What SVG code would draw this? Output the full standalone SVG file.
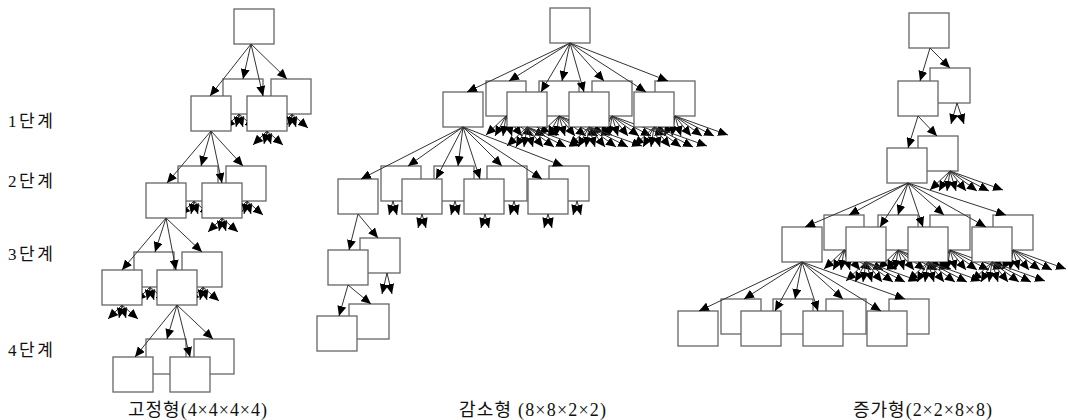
<svg xmlns="http://www.w3.org/2000/svg" xmlns:xlink="http://www.w3.org/1999/xlink" width="1068" height="420" viewBox="0 0 1068 420">
<style>
.b{fill:#fff;stroke:#666;stroke-width:1.3}
.t{font-family:'Liberation Serif','Noto Sans CJK KR',serif;font-size:17px;fill:#111}
.tt{font-size:18px}
</style>
<defs>
<marker id="ah" markerUnits="userSpaceOnUse" markerWidth="10" markerHeight="9" refX="10" refY="4.5" orient="auto"><path d="M0,0L10,4.5L0,9z" fill="#000"/></marker>
<g id="f4"><line x1="0" y1="0" x2="-14" y2="14"/><line x1="0" y1="0" x2="-3" y2="13"/><line x1="0" y1="0" x2="4" y2="13"/><line x1="0" y1="0" x2="16" y2="14"/></g>
<g id="f8"><line x1="0" y1="0" x2="-20" y2="19"/><line x1="0" y1="0" x2="-11" y2="20"/><line x1="0" y1="0" x2="-3" y2="20"/><line x1="0" y1="0" x2="6" y2="20"/><line x1="0" y1="0" x2="16" y2="20"/><line x1="0" y1="0" x2="27" y2="20"/><line x1="0" y1="0" x2="39" y2="20"/><line x1="0" y1="0" x2="53" y2="19"/></g>
<g id="f2"><line x1="0" y1="0" x2="-4" y2="14"/><line x1="0" y1="0" x2="4" y2="14"/></g>
<clipPath id="k1"><path clip-rule="evenodd" d="M0 0H1068V420H0Z M191 96h40v35h-40Z M247 96h40v35h-40Z"/></clipPath>
<clipPath id="k2"><path clip-rule="evenodd" d="M0 0H1068V420H0Z M146 183h40v35h-40Z M202 183h40v35h-40Z"/></clipPath>
<clipPath id="k3"><path clip-rule="evenodd" d="M0 0H1068V420H0Z M102 270h40v35h-40Z M157 270h40v35h-40Z"/></clipPath>
<clipPath id="k4"><path clip-rule="evenodd" d="M0 0H1068V420H0Z M443 92h40v35h-40Z M507 92h40v35h-40Z M569 92h40v35h-40Z M634 92h40v35h-40Z"/></clipPath>
<clipPath id="k5"><path clip-rule="evenodd" d="M0 0H1068V420H0Z M782 227h40v35h-40Z M846 227h40v35h-40Z M908 227h40v35h-40Z M972 227h40v35h-40Z"/></clipPath>
</defs>
<rect width="1068" height="420" fill="#fff"/>

<g id="labels" class="t">
<text x="8" y="127" textLength="45" lengthAdjust="spacing">1단계</text>
<text x="8" y="187" textLength="45" lengthAdjust="spacing">2단계</text>
<text x="8" y="260" textLength="45" lengthAdjust="spacing">3단계</text>
<text x="8" y="356" textLength="45" lengthAdjust="spacing">4단계</text>
<text class="tt" x="128" y="416" textLength="139" lengthAdjust="spacing">고정형(4×4×4×4)</text>
<text class="tt" x="459" y="416" textLength="147" lengthAdjust="spacing">감소형 (8×8×2×2)</text>
<text class="tt" x="853" y="416" textLength="139" lengthAdjust="spacing">증가형(2×2×8×8)</text>
</g>

<g id="tree1">
<g id="t1-root"><rect class="b" x="234" y="9" width="40" height="35"/></g>
<g id="t1-1b1"><rect class="b" x="223" y="79" width="40" height="35"/></g>
<g id="t1-1b2"><rect class="b" x="271" y="79" width="40" height="35"/></g>
<g id="t1-1f1"><rect class="b" x="191" y="96" width="40" height="35"/></g>
<g id="t1-1f2"><rect class="b" x="247" y="96" width="40" height="35"/></g>
<g id="t1-2b1"><rect class="b" x="178" y="166" width="40" height="35"/></g>
<g id="t1-2b2"><rect class="b" x="226" y="166" width="40" height="35"/></g>
<g id="t1-2f1"><rect class="b" x="146" y="183" width="40" height="35"/></g>
<g id="t1-2f2"><rect class="b" x="202" y="183" width="40" height="35"/></g>
<g id="t1-3b1"><rect class="b" x="134" y="252" width="40" height="35"/></g>
<g id="t1-3b2"><rect class="b" x="182" y="252" width="40" height="35"/></g>
<g id="t1-3f1"><rect class="b" x="102" y="270" width="40" height="35"/></g>
<g id="t1-3f2"><rect class="b" x="157" y="270" width="40" height="35"/></g>
<g id="t1-4b1"><rect class="b" x="146" y="339" width="40" height="35"/></g>
<g id="t1-4b2"><rect class="b" x="194" y="339" width="40" height="35"/></g>
<g id="t1-4f1"><rect class="b" x="113" y="357" width="40" height="35"/></g>
<g id="t1-4f2"><rect class="b" x="170" y="357" width="40" height="35"/></g>
</g>

<g id="tree2">
<g id="t2-root"><rect class="b" x="550" y="8" width="40" height="35"/></g>
<g id="t2-1b1"><rect class="b" x="486" y="81" width="40" height="35"/></g>
<g id="t2-1b2"><rect class="b" x="539" y="81" width="40" height="35"/></g>
<g id="t2-1b3"><rect class="b" x="592" y="81" width="40" height="35"/></g>
<g id="t2-1b4"><rect class="b" x="655" y="81" width="40" height="35"/></g>
<g id="t2-1f1"><rect class="b" x="443" y="92" width="40" height="35"/></g>
<g id="t2-1f2"><rect class="b" x="507" y="92" width="40" height="35"/></g>
<g id="t2-1f3"><rect class="b" x="569" y="92" width="40" height="35"/></g>
<g id="t2-1f4"><rect class="b" x="634" y="92" width="40" height="35"/></g>
<g id="t2-2b1"><rect class="b" x="381" y="166" width="40" height="35"/></g>
<g id="t2-2b2"><rect class="b" x="434" y="166" width="40" height="35"/></g>
<g id="t2-2b3"><rect class="b" x="487" y="166" width="40" height="35"/></g>
<g id="t2-2b4"><rect class="b" x="549" y="166" width="40" height="35"/></g>
<g id="t2-2f1"><rect class="b" x="338" y="179" width="40" height="35"/></g>
<g id="t2-2f2"><rect class="b" x="402" y="179" width="40" height="35"/></g>
<g id="t2-2f3"><rect class="b" x="464" y="179" width="40" height="35"/></g>
<g id="t2-2f4"><rect class="b" x="528" y="179" width="40" height="35"/></g>
<g id="t2-3b1"><rect class="b" x="360" y="238" width="40" height="35"/></g>
<g id="t2-3f1"><rect class="b" x="328" y="250" width="40" height="35"/></g>
<g id="t2-4b1"><rect class="b" x="349" y="304" width="40" height="35"/></g>
<g id="t2-4f1"><rect class="b" x="317" y="316" width="40" height="35"/></g>
</g>

<g id="tree3">
<g id="t3-root"><rect class="b" x="909" y="13" width="40" height="35"/></g>
<g id="t3-1b1"><rect class="b" x="930" y="68" width="40" height="35"/></g>
<g id="t3-1f1"><rect class="b" x="898" y="81" width="40" height="35"/></g>
<g id="t3-2b1"><rect class="b" x="918" y="136" width="40" height="35"/></g>
<g id="t3-2f1"><rect class="b" x="887" y="148" width="40" height="35"/></g>
<g id="t3-3b1"><rect class="b" x="824" y="215" width="40" height="35"/></g>
<g id="t3-3b2"><rect class="b" x="878" y="215" width="40" height="35"/></g>
<g id="t3-3b3"><rect class="b" x="930" y="215" width="40" height="35"/></g>
<g id="t3-3b4"><rect class="b" x="993" y="215" width="40" height="35"/></g>
<g id="t3-3f1"><rect class="b" x="782" y="227" width="40" height="35"/></g>
<g id="t3-3f2"><rect class="b" x="846" y="227" width="40" height="35"/></g>
<g id="t3-3f3"><rect class="b" x="908" y="227" width="40" height="35"/></g>
<g id="t3-3f4"><rect class="b" x="972" y="227" width="40" height="35"/></g>
<g id="t3-4b1"><rect class="b" x="721" y="299" width="40" height="35"/></g>
<g id="t3-4b2"><rect class="b" x="773" y="299" width="40" height="35"/></g>
<g id="t3-4b3"><rect class="b" x="826" y="299" width="40" height="35"/></g>
<g id="t3-4b4"><rect class="b" x="889" y="299" width="40" height="35"/></g>
<g id="t3-4f1"><rect class="b" x="678" y="311" width="40" height="35"/></g>
<g id="t3-4f2"><rect class="b" x="741" y="311" width="40" height="35"/></g>
<g id="t3-4f3"><rect class="b" x="803" y="311" width="40" height="35"/></g>
<g id="t3-4f4"><rect class="b" x="867" y="311" width="40" height="35"/></g>
</g>

<g id="connectors" stroke="#333" stroke-width="1" marker-end="url(#ah)" fill="none">
<!-- tree 1 -->
<line x1="251" y1="44" x2="210" y2="96"/><line x1="251" y1="44" x2="243" y2="79"/><line x1="251" y1="44" x2="263" y2="96"/><line x1="251" y1="44" x2="287" y2="79"/>
<line x1="211" y1="131" x2="167" y2="183"/><line x1="211" y1="131" x2="201" y2="166"/><line x1="211" y1="131" x2="222" y2="183"/><line x1="211" y1="131" x2="243" y2="166"/>
<line x1="166" y1="218" x2="122" y2="270"/><line x1="166" y1="218" x2="155" y2="252"/><line x1="166" y1="218" x2="176" y2="270"/><line x1="166" y1="218" x2="202" y2="252"/>
<line x1="177" y1="305" x2="135" y2="357"/><line x1="177" y1="305" x2="167" y2="339"/><line x1="177" y1="305" x2="190" y2="357"/><line x1="177" y1="305" x2="213" y2="339"/>
<g clip-path="url(#k1)"><use xlink:href="#f4" x="239" y="114"/><use xlink:href="#f4" x="292" y="114"/></g>
<use xlink:href="#f4" x="267" y="131"/>
<g clip-path="url(#k2)"><use xlink:href="#f4" x="194" y="201"/><use xlink:href="#f4" x="247" y="201"/></g>
<use xlink:href="#f4" x="222" y="218"/>
<g clip-path="url(#k3)"><use xlink:href="#f4" x="150" y="287"/><use xlink:href="#f4" x="203" y="287"/></g>
<use xlink:href="#f4" x="122" y="305"/>
<!-- tree 2 -->
<line x1="570" y1="43" x2="467" y2="92"/><line x1="570" y1="43" x2="509" y2="81"/><line x1="570" y1="43" x2="541" y2="92"/><line x1="570" y1="43" x2="562" y2="81"/>
<line x1="570" y1="43" x2="584" y2="92"/><line x1="570" y1="43" x2="604" y2="81"/><line x1="570" y1="43" x2="646" y2="92"/><line x1="570" y1="43" x2="668" y2="81"/>
<g clip-path="url(#k4)"><use xlink:href="#f8" x="506" y="116"/><use xlink:href="#f8" x="559" y="116"/><use xlink:href="#f8" x="612" y="116"/><use xlink:href="#f8" x="675" y="116"/></g>
<use xlink:href="#f8" x="527" y="127"/><use xlink:href="#f8" x="589" y="127"/><use xlink:href="#f8" x="654" y="127"/>
<line x1="463" y1="127" x2="361" y2="179"/><line x1="463" y1="127" x2="408" y2="166"/><line x1="463" y1="127" x2="436" y2="179"/><line x1="463" y1="127" x2="458" y2="166"/>
<line x1="463" y1="127" x2="480" y2="179"/><line x1="463" y1="127" x2="502" y2="166"/><line x1="463" y1="127" x2="542" y2="179"/><line x1="463" y1="127" x2="563" y2="166"/>
<use xlink:href="#f2" x="393" y="201"/><use xlink:href="#f2" x="455" y="201"/><use xlink:href="#f2" x="514" y="201"/><use xlink:href="#f2" x="577" y="201"/>
<use xlink:href="#f2" x="422" y="214"/><use xlink:href="#f2" x="485" y="214"/><use xlink:href="#f2" x="548" y="214"/>
<line x1="358" y1="214" x2="349" y2="250"/><line x1="358" y1="214" x2="378" y2="238"/>
<line x1="387" y1="273" x2="382" y2="294"/><line x1="387" y1="273" x2="392" y2="294"/>
<line x1="348" y1="285" x2="339" y2="316"/><line x1="348" y1="285" x2="371" y2="304"/>
<!-- tree 3 -->
<line x1="930" y1="48" x2="920" y2="81"/><line x1="930" y1="48" x2="950" y2="68"/>
<line x1="957" y1="103" x2="951" y2="124"/><line x1="957" y1="103" x2="964" y2="124"/>
<line x1="918" y1="116" x2="908" y2="148"/><line x1="918" y1="116" x2="937" y2="136"/>
<use xlink:href="#f8" x="950" y="171"/>
<line x1="908" y1="183" x2="805" y2="227"/><line x1="908" y1="183" x2="849" y2="215"/><line x1="908" y1="183" x2="880" y2="227"/><line x1="908" y1="183" x2="898" y2="215"/>
<line x1="908" y1="183" x2="923" y2="227"/><line x1="908" y1="183" x2="944" y2="215"/><line x1="908" y1="183" x2="986" y2="227"/><line x1="908" y1="183" x2="1006" y2="215"/>
<g clip-path="url(#k5)"><use xlink:href="#f8" x="844" y="250"/><use xlink:href="#f8" x="898" y="250"/><use xlink:href="#f8" x="950" y="250"/><use xlink:href="#f8" x="1013" y="250"/></g>
<use xlink:href="#f8" x="866" y="262"/><use xlink:href="#f8" x="928" y="262"/><use xlink:href="#f8" x="992" y="262"/>
<line x1="802" y1="262" x2="699" y2="311"/><line x1="802" y1="262" x2="744" y2="299"/><line x1="802" y1="262" x2="775" y2="311"/><line x1="802" y1="262" x2="795" y2="299"/>
<line x1="802" y1="262" x2="818" y2="311"/><line x1="802" y1="262" x2="843" y2="299"/><line x1="802" y1="262" x2="881" y2="311"/><line x1="802" y1="262" x2="905" y2="299"/>
</g>
</svg>
